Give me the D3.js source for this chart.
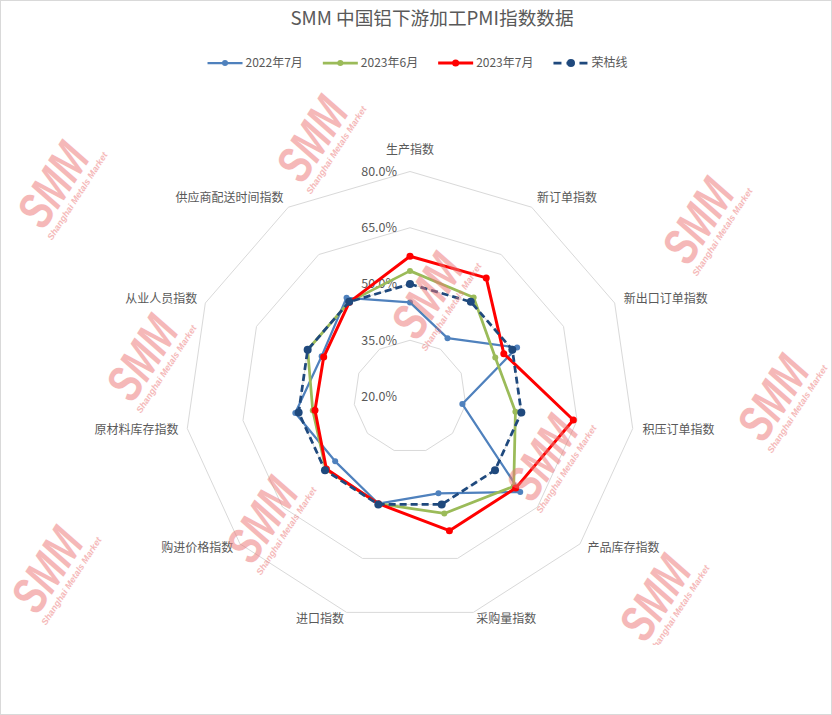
<!DOCTYPE html>
<html><head><meta charset="utf-8">
<script src="https://cdn.jsdelivr.net/npm/d3@7"></script>
<style>
body{margin:0;background:#fff}
svg{display:block}
text{font-family:"Noto Sans CJK SC","Noto Sans",sans-serif}
</style>
</head><body>
<svg id="chart" width="832" height="715"></svg>
<script>
// ---------------- data ----------------
const titleText = "SMM 中国铝下游加工PMI指数数据";
const categories = ["生产指数","新订单指数","新出口订单指数","积压订单指数","产品库存指数","采购量指数","进口指数","购进价格指数","原材料库存指数","从业人员指数","供应商配送时间指数"];
const seriesNames = ["2022年7月","2023年6月","2023年7月","荣枯线"];
const values2022Jul = [45.1, 38.5, 51.4, 34.1, 58.9, 46.9, 49.8, 46.4, 50.9, 45.9, 51.3];
const values2023Jun = [53.5, 51.4, 45.0, 48.4, 56.6, 52.5, 49.8, 49.7, 46.2, 50.0, 50.0];
const values2023Jul = [57.4, 57.6, 47.5, 64.0, 57.3, 57.3, 49.8, 49.5, 45.6, 45.3, 49.9];
const valuesBoomBust = [50, 50, 50, 50, 50, 50, 50, 50, 50, 50, 50];
const tickValues = [20, 35, 50, 65, 80];
const tickLabels = ["20.0%","35.0%","50.0%","65.0%","80.0%"];

// ---------------- layout / styles ----------------
const W = 832, H = 715;
const cx = 410, cy = 396.5, R = 225;
const seriesStyles = [
  {color:"#4F81BD", width:2.25, dash:null, mr:3},
  {color:"#9BBB59", width:2.75, dash:null, mr:3},
  {color:"#FF0000", width:3, dash:null, mr:3.5},
  {color:"#1F497D", width:2.75, dash:"7,4", mr:4}
];
const seriesValues = [values2022Jul, values2023Jun, values2023Jul, valuesBoomBust];
const gridColor = "#d9d9d9", textColor = "#595959";

const svg = d3.select("#chart");
svg.append("rect").attr("x",0).attr("y",0).attr("width",W).attr("height",H).attr("fill","#fff");

const n = categories.length;
const angle = d3.scaleLinear().domain([0, n]).range([0, 2*Math.PI]);
const rScale = d3.scaleLinear().domain([tickValues[0], tickValues[tickValues.length-1]]).range([0, R]);

const g = svg.append("g").attr("transform", `translate(${cx},${cy})`);

// grid polygons
const gridLine = d3.lineRadial().angle((d,i)=>angle(i)).radius(d=>rScale(d)).curve(d3.curveLinearClosed);
tickValues.slice(1).forEach(v=>{
  g.append("path").attr("d", gridLine(categories.map(()=>v)))
   .attr("fill","none").attr("stroke",gridColor).attr("stroke-width",1);
});

// watermarks (decorative)
const wmLayer = svg.append("g");
svg.append("clipPath").attr("id","wmclip").append("rect").attr("x",0).attr("y",0).attr("width",W).attr("height",645);
wmLayer.attr("clip-path","url(#wmclip)");
const wmSpots = [[56,187],[315,141],[145,360],[701,223],[776,400],[545,460],[265,522],[50,572],[658,600],[430,298]];
wmSpots.forEach(([x,y])=>{
  const w = wmLayer.append("g").attr("transform",`translate(${x},${y}) rotate(-57)`).attr("opacity",0.5);
  w.append("text").text("SMM").attr("transform","scale(0.85,1.15)").attr("x",0).attr("y",12).attr("text-anchor","middle")
   .style("font-family","'Liberation Sans',Arial,sans-serif").style("font-weight","bold").style("font-style","italic")
   .style("font-size","44px").attr("fill","#ec7474");
  w.append("text").text("Shanghai Metals Market").attr("x",4).attr("y",26).attr("text-anchor","middle")
   .style("font-family","'Liberation Sans',Arial,sans-serif").style("font-weight","bold").style("font-style","italic")
   .style("font-size","9px").attr("fill","#ec7474");
});

// tick labels
tickValues.forEach((v,i)=>{
  g.append("text").text(tickLabels[i]).attr("x",-13).attr("y",-rScale(v)).attr("dy","0.35em")
   .attr("text-anchor","end").attr("fill",textColor).style("font-size","12.5px");
});

// category labels
categories.forEach((c,i)=>{
  const a = angle(i);
  const [vx, vy] = d3.pointRadial(a, R);
  const s = Math.sin(a), co = Math.cos(a);
  let anchor = "middle", x = vx, y = vy;
  if (s > 0.05) { anchor = "start"; x = vx + s*10; }
  else if (s < -0.05) { anchor = "end"; x = vx + s*9; }
  if (Math.abs(s) <= 0.05) { y = vy - 21.5; }
  else y = vy - co*(co > 0 ? 11 : 6.8);
  g.append("text").text(c).attr("x",x).attr("y",y).attr("dy","0.35em")
   .attr("text-anchor",anchor).attr("fill",textColor).style("font-size","12px");
});

// series
const seriesLine = d3.lineRadial().angle((d,i)=>angle(i)).radius(d=>rScale(d)).curve(d3.curveLinearClosed);
seriesValues.forEach((vals, si)=>{
  const st = seriesStyles[si];
  const sg = g.append("g");
  sg.append("path").attr("d", seriesLine(vals)).attr("fill","none")
    .attr("stroke",st.color).attr("stroke-width",st.width).attr("stroke-linejoin","round")
    .attr("stroke-dasharray", st.dash);
  sg.selectAll("circle").data(vals).join("circle")
    .attr("cx",(d,i)=>d3.pointRadial(angle(i), rScale(d))[0])
    .attr("cy",(d,i)=>d3.pointRadial(angle(i), rScale(d))[1])
    .attr("r",st.mr).attr("fill",st.color);
});

// title
svg.append("text").text(titleText).attr("x",432).attr("y",18).attr("dy","0.35em")
  .attr("text-anchor","middle").attr("fill",textColor).style("font-size","18.67px");

// legend
const legend = svg.append("g");
const itemWidths = seriesNames.map(s=>{
  const t = legend.append("text").text(s).style("font-size","12px");
  const w = t.node().getComputedTextLength(); t.remove(); return w;
});
const lineLen = 35, gapT = 3, gapItem = 20;
const total = d3.sum(itemWidths) + seriesNames.length*(lineLen+gapT) + (seriesNames.length-1)*gapItem;
let lx = 417.5 - total/2;
const ly = 63;
seriesNames.forEach((s,si)=>{
  const st = seriesStyles[si];
  legend.append("line").attr("x1",lx).attr("x2",lx+lineLen).attr("y1",ly).attr("y2",ly)
    .attr("stroke",st.color).attr("stroke-width",st.width).attr("stroke-dasharray", st.dash ? "8,5" : null);
  legend.append("circle").attr("cx",lx+lineLen/2).attr("cy",ly).attr("r",st.mr).attr("fill",st.color);
  legend.append("text").text(s).attr("x",lx+lineLen+gapT).attr("y",ly).attr("dy","0.35em")
    .attr("fill",textColor).style("font-size","12px");
  lx += lineLen + gapT + itemWidths[si] + gapItem;
});

// outer border
svg.append("rect").attr("x",0.5).attr("y",0.5).attr("width",W-1).attr("height",H-1)
  .attr("fill","none").attr("stroke",gridColor).attr("stroke-width",1);
</script>
</body></html>
